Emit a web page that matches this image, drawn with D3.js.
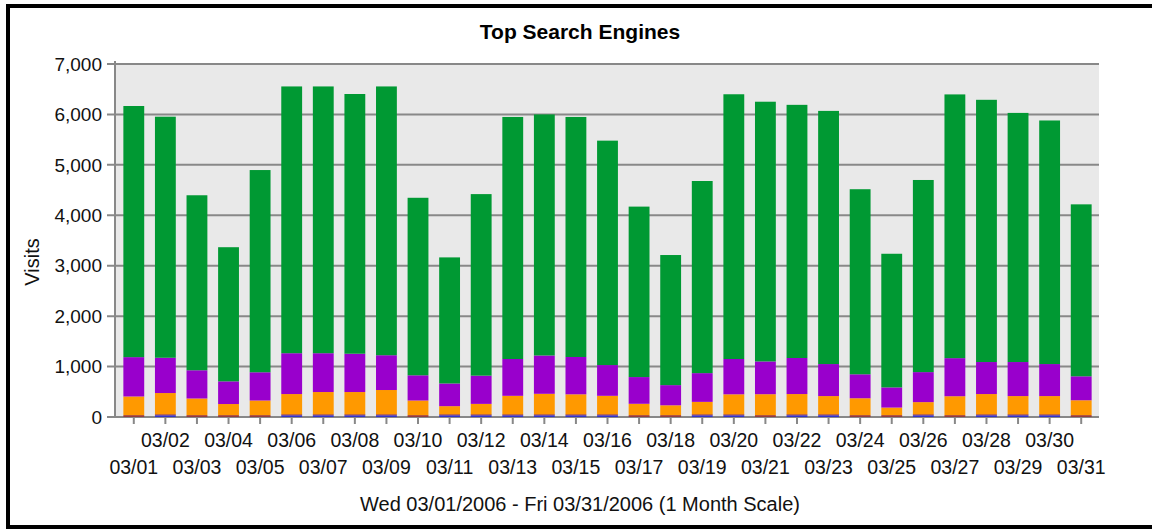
<!DOCTYPE html>
<html>
<head>
<meta charset="utf-8">
<script src="https://cdn.jsdelivr.net/npm/d3@7"></script>
<style>
  body { margin: 0; background: #fff; }
  svg { display: block; font-family: "Liberation Sans", Arial, sans-serif; }
</style>
</head>
<body>
<div id="chart"></div>
<script>
// days of March 2006
const days = ['03/01','03/02','03/03','03/04','03/05','03/06','03/07','03/08','03/09','03/10',
  '03/11','03/12','03/13','03/14','03/15','03/16','03/17','03/18','03/19','03/20',
  '03/21','03/22','03/23','03/24','03/25','03/26','03/27','03/28','03/29','03/30','03/31'];

// visits per engine, bottom to top of each stack
const blue = [2,35,2,2,2,35,35,35,35,2,35,35,35,35,35,35,2,2,35,35,2,35,35,2,2,35,2,35,35,35,2];
const red = [35,20,35,35,35,20,20,20,20,35,20,20,20,20,20,20,35,35,20,20,35,20,20,35,35,20,35,20,20,20,35];
const orange = [370,420,330,220,290,400,440,440,480,290,160,205,365,405,395,365,225,195,245,395,
  415,400,360,335,150,240,375,400,360,360,295];
const purple = [780,700,560,450,560,810,770,760,690,500,450,560,730,760,740,610,530,400,570,700,
  650,715,635,475,400,595,755,635,675,635,475];
const green = [4980,4780,3470,2660,4010,5290,5290,5150,5330,3520,2500,3600,4800,4780,4760,4450,3380,2580,3810,5250,
  5150,5020,5020,3670,2650,3810,5230,5200,4940,4830,3410];

const yTicks = [0,1000,2000,3000,4000,5000,6000,7000];

const series = [
  { key: 'blue', values: blue, color: '#3333cc' },
  { key: 'red', values: red, color: '#993333' },
  { key: 'orange', values: orange, color: '#ff9900' },
  { key: 'purple', values: purple, color: '#9900cc' },
  { key: 'green', values: green, color: '#009933' }
];

const width = 1152, height = 529;
const plot = { left: 115, right: 1099, top: 64, bottom: 417 };

const rows = days.map((d, i) => {
  const r = { day: d };
  series.forEach(s => { r[s.key] = s.values[i]; });
  return r;
});

const stack = d3.stack().keys(series.map(s => s.key));
const layers = stack(rows);

const x = d3.scaleBand()
  .domain(days)
  .range([118, 1097])
  .paddingInner(0.34)
  .paddingOuter(0.17);

const y = d3.scaleLinear()
  .domain([0, 7000])
  .range([plot.bottom, plot.top]);

const svg = d3.select('#chart').append('svg')
  .attr('width', width)
  .attr('height', height);

// frame
svg.append('rect')
  .attr('x', 8).attr('y', 6)
  .attr('width', 1160).attr('height', 521)
  .attr('fill', '#fff')
  .attr('stroke', '#000')
  .attr('stroke-width', 4);

// plot background
svg.append('rect')
  .attr('x', plot.left).attr('y', plot.top)
  .attr('width', plot.right - plot.left).attr('height', plot.bottom - plot.top)
  .attr('fill', '#e9e9e9');

// grid lines
svg.append('g').selectAll('line')
  .data(yTicks)
  .enter().append('line')
    .attr('x1', plot.left - 8).attr('x2', plot.right)
    .attr('y1', d => y(d)).attr('y2', d => y(d))
    .attr('stroke', '#888')
    .attr('stroke-width', 2);

// y axis labels
svg.append('g').selectAll('text')
  .data(yTicks)
  .enter().append('text')
    .attr('x', 102)
    .attr('y', d => y(d))
    .attr('dy', '0.35em')
    .attr('text-anchor', 'end')
    .attr('font-size', 19)
    .attr('fill', '#111')
    .text(d3.format(','));

// left axis line
svg.append('line')
  .attr('x1', plot.left).attr('x2', plot.left)
  .attr('y1', plot.top - 3).attr('y2', plot.bottom + 1)
  .attr('stroke', '#888')
  .attr('stroke-width', 2);

// bars
svg.append('g').selectAll('g')
  .data(layers)
  .enter().append('g')
    .attr('fill', (d, i) => series[i].color)
  .selectAll('rect')
  .data(d => d)
  .enter().append('rect')
    .attr('x', d => x(d.data.day))
    .attr('width', x.bandwidth())
    .attr('y', d => y(d[1]))
    .attr('height', d => y(d[0]) - y(d[1]));

// x ticks
svg.append('g').selectAll('line')
  .data(days)
  .enter().append('line')
    .attr('x1', d => x(d) + x.bandwidth() / 2)
    .attr('x2', d => x(d) + x.bandwidth() / 2)
    .attr('y1', plot.bottom + 1).attr('y2', plot.bottom + 7)
    .attr('stroke', '#888')
    .attr('stroke-width', 2);

// x labels, staggered in two rows
svg.append('g').selectAll('text')
  .data(days)
  .enter().append('text')
    .attr('x', d => x(d) + x.bandwidth() / 2)
    .attr('y', (d, i) => i % 2 === 1 ? 447 : 474)
    .attr('text-anchor', 'middle')
    .attr('font-size', 19.5)
    .attr('fill', '#111')
    .text(d => d);

// titles
svg.append('text')
  .attr('x', 580).attr('y', 39)
  .attr('text-anchor', 'middle')
  .attr('font-size', 21)
  .attr('font-weight', 'bold')
  .attr('fill', '#000')
  .text('Top Search Engines');

svg.append('text')
  .attr('x', 580).attr('y', 511)
  .attr('text-anchor', 'middle')
  .attr('font-size', 20)
  .attr('fill', '#111')
  .text('Wed 03/01/2006 - Fri 03/31/2006 (1 Month Scale)');

svg.append('text')
  .attr('transform', 'translate(39,262) rotate(-90)')
  .attr('text-anchor', 'middle')
  .attr('font-size', 20)
  .attr('fill', '#111')
  .text('Visits');
</script>
</body>
</html>
